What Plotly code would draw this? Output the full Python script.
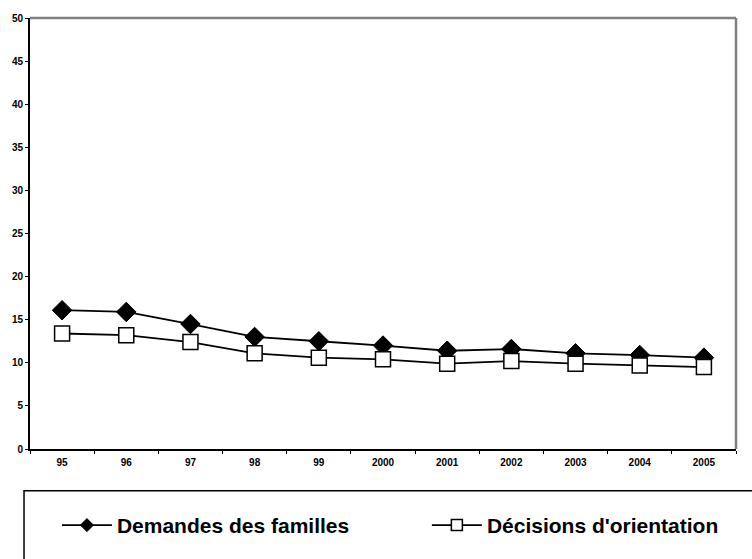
import plotly.graph_objects as go

years = ["95", "96", "97", "98", "99", "2000", "2001", "2002", "2003", "2004", "2005"]
demandes = [16.1, 15.9, 14.5, 13.0, 12.5, 12.0, 11.4, 11.6, 11.1, 10.9, 10.6]
decisions = [13.4, 13.2, 12.4, 11.1, 10.6, 10.4, 9.9, 10.2, 9.9, 9.7, 9.5]
y_ticks = [0, 5, 10, 15, 20, 25, 30, 35, 40, 45, 50]
series_names = ["Demandes des familles", "Décisions d'orientation"]

W, H = 752, 559
L, R, T, B = 28, 16, 15, 110
pw, ph = W - L - R, H - T - B

def px(x):
    return (x - L) / pw

def py(y):
    return (H - B - y) / ph

diamond = dict(symbol="diamond", color="black", line=dict(color="black", width=1))
square = dict(symbol="square", color="white", line=dict(color="black", width=1.5))
line_style = dict(color="black", width=1.8)

fig = go.Figure()
fig.add_trace(go.Scatter(
    x=years, y=demandes, name=series_names[0], mode="lines+markers",
    line=line_style, marker=dict(size=15, **diamond), showlegend=False,
))
fig.add_trace(go.Scatter(
    x=years, y=decisions, name=series_names[1], mode="lines+markers",
    line=line_style, marker=dict(size=15, **square), showlegend=False,
))
# legend entries (smaller symbols, as in the reference legend)
fig.add_trace(go.Scatter(
    x=[None], y=[None], name=series_names[0], mode="lines+markers",
    line=line_style, marker=dict(size=10, **diamond), legend="legend",
))
fig.add_trace(go.Scatter(
    x=[None], y=[None], name=series_names[1], mode="lines+markers",
    line=line_style, marker=dict(size=11, **square), legend="legend2",
))

font = "Liberation Sans, Arial, sans-serif"
leg_common = dict(
    orientation="h", xanchor="left", yanchor="middle",
    font=dict(family=font, size=21, color="black", weight="bold"),
    itemwidth=50,
    bgcolor="rgba(0,0,0,0)", borderwidth=0,
)
fig.update_layout(
    width=W, height=H,
    margin=dict(l=L, r=R, t=T, b=B),
    paper_bgcolor="white", plot_bgcolor="white",
    font=dict(family=font, color="black"),
    showlegend=True,
    legend=dict(x=px(55), y=py(526), **leg_common),
    legend2=dict(x=px(426), y=py(526), **leg_common),
    xaxis=dict(
        type="category", range=[-0.5, 10.5], showgrid=False, zeroline=False,
        showline=True, linecolor="black", linewidth=2,
        ticks="outside", ticklen=3, tickcolor="black", tickwidth=1,
        tickson="boundaries", ticklabelstandoff=3,
        tickfont=dict(family=font, size=10, color="black", weight="bold"),
        fixedrange=True,
    ),
    yaxis=dict(
        range=[0, 50], tickvals=y_ticks, showgrid=False, zeroline=False,
        showline=True, linecolor="black", linewidth=2,
        ticks="outside", ticklen=3, tickcolor="black", tickwidth=1,
        tickfont=dict(family=font, size=10, color="black", weight="bold"),
        fixedrange=True,
    ),
    shapes=[
        dict(type="line", xref="paper", yref="paper", x0=0, x1=1, y0=1, y1=1,
             line=dict(color="#808080", width=2.5)),
        dict(type="line", xref="paper", yref="paper", x0=1, x1=1, y0=0, y1=1,
             line=dict(color="#808080", width=2.5)),
        dict(type="rect", xref="paper", yref="paper",
             x0=px(22), x1=px(770), y0=py(491), y1=py(580),
             line=dict(color="black", width=1.5), fillcolor="rgba(0,0,0,0)"),
    ],
)

fig.write_html(
    "out.html",
    config={"displayModeBar": False},
    post_script="document.body.style.margin='0';document.body.style.overflow='hidden';",
)
